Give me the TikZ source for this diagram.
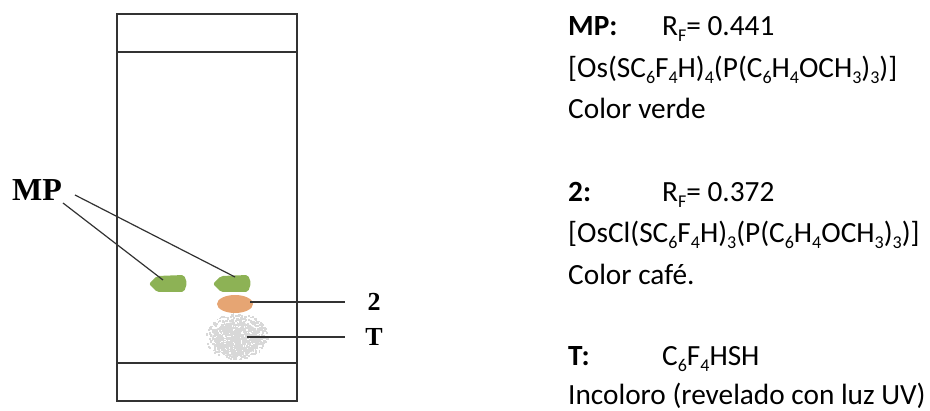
\documentclass[tikz,border=0pt]{standalone}
\usepackage{fontspec}
\setmainfont{Carlito}
\newfontfamily\timesfont{Liberation Serif}
\usepackage{xcolor}
\usetikzlibrary{positioning}

\definecolor{spotgreen}{RGB}{141,178,85}
\definecolor{spotbrown}{RGB}{230,165,115}
\definecolor{spotgray}{RGB}{216,216,216}
\definecolor{linegray}{RGB}{50,50,50}

% small lowered digits for the formulas
\newcommand{\low}[1]{\raisebox{-0.2em}{\fontsize{18}{18}\selectfont #1}}

\begin{document}
\begin{tikzpicture}[x=1pt,y=-1pt]
		\tikzstyle{plate_style} = [draw=linegray,line width=1.8pt]
		\tikzstyle{edge_style} = [draw=linegray,line width=1.2pt]
		\tikzstyle{tag_style} = [font=\timesfont\bfseries\fontsize{26}{26}\selectfont,inner sep=0pt]
		\tikzstyle{info_style} = [font=\fontsize{29.3}{41.5}\selectfont,align=left,anchor=north west,inner sep=0pt]
		\useasboundingbox (0,0) rectangle (930,411);
		% plate with origin and solvent front lines
		\draw[plate_style] (117,14) rectangle (297,401);
		\draw[plate_style] (117,52) -- (297,52);
		\draw[plate_style] (117,363) -- (297,363);
		% thiol spot (speckled)
		\fill[spotgray] (236,339) ellipse (24 and 17);
		\pgfmathsetseed{11}
		\foreach \k in {1,...,700}{
			\pgfmathsetmacro{\ang}{360*rnd}
			\pgfmathsetmacro{\rad}{sqrt(rnd)}
			\fill[spotgray] (236,336) ++(\ang:{31*\rad} and {23*\rad}) rectangle ++(1.8,1.8);
		}
		\foreach \k in {1,...,110}{
			\pgfmathsetmacro{\ang}{360*rnd}
			\pgfmathsetmacro{\rad}{sqrt(rnd)}
			\fill[white] (236,338) ++(\ang:{25*\rad} and {18*\rad}) rectangle ++(1.2,1.2);
		}
		% complex 2
		\fill[spotbrown] (235,304) ellipse (18 and 9);
		% starting material, two lanes
		\fill[spotgreen,rounded corners=2pt] (149,284) -- (157,276) -- (184,275) -- (187,283) -- (184,292) -- (157,292) -- cycle;
		\fill[spotgreen,rounded corners=2pt] (213,284) -- (221,276) -- (248,275) -- (251,283) -- (248,292) -- (221,292) -- cycle;
		\coordinate (s1) at (163,280);
		\coordinate (s2) at (235,277);
		\coordinate (s3) at (250,302);
		\coordinate (s4) at (247,337);
		% labels
		\node[tag_style,font=\timesfont\bfseries\fontsize{32}{32}\selectfont] (mp) at (37,190) {MP};
		\node[tag_style] (two) at (374,302) {2};
		\node[tag_style] (t) at (374,337) {T};
		\coordinate (m1) at (63,203);
		\coordinate (m2) at (75,195);
		\coordinate (e2) at (345,302);
		\coordinate (et) at (345,337);
		\draw[edge_style] (m1) edge (s1);
		\draw[edge_style] (m2) edge (s2);
		\draw[edge_style] (s3) edge (e2);
		\draw[edge_style] (s4) edge (et);
		% legend
		\node[info_style] (infoMP) at (568,16.5) {\makebox[94pt][l]{\textbf{MP:}}R\low{F}= 0.441\\
			{[}Os(SC\low{6}F\low{4}H)\low{4}(P(C\low{6}H\low{4}OCH\low{3})\low{3})]\\
			Color verde};
		\node[info_style] (infoTwo) at (568,182) {\makebox[94pt][l]{\textbf{2:}}R\low{F}= 0.372\\
			{[}OsCl(SC\low{6}F\low{4}H)\low{3}(P(C\low{6}H\low{4}OCH\low{3})\low{3})]\\
			Color café.};
		\node[info_style,font=\fontsize{29.3}{39}\selectfont] (infoT) at (568,346.5) {\makebox[94pt][l]{\textbf{T:}}C\low{6}F\low{4}HSH\\
			Incoloro (revelado con luz UV)};
\end{tikzpicture}
\end{document}
